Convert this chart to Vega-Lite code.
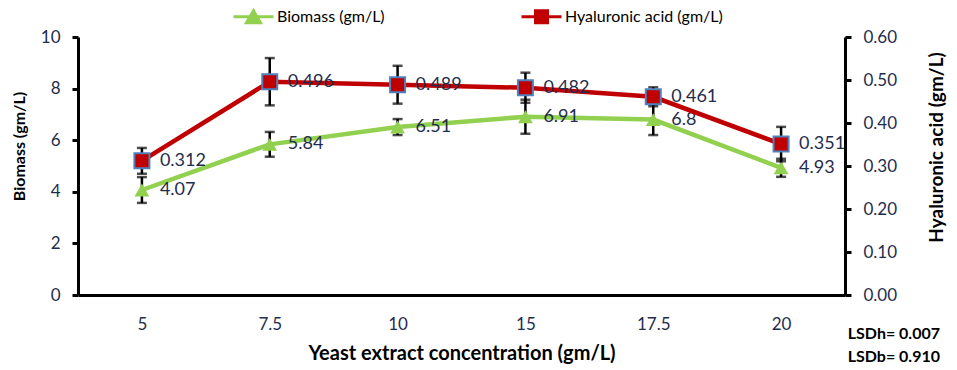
{
  "$schema": "https://vega.github.io/schema/vega-lite/v6.json",
  "width": 767,
  "height": 258,
  "autosize": {"type": "none"},
  "padding": {"left": 78, "top": 37, "right": 112, "bottom": 75},
  "background": "white",
  "config": {"view": {"stroke": null}, "font": "Lato"},
  "title": {
    "text": ["LSDh= 0.007", "LSDb= 0.910"],
    "orient": "bottom",
    "anchor": "end",
    "frame": "group",
    "fontSize": 16,
    "fontWeight": "bold",
    "color": "black",
    "lineHeight": 23,
    "offset": -37,
    "dx": 95,
    "align": "right"
  },
  "datasets": {
    "biomass": [
      {"conc": "5", "value": 4.07, "err": 0.5, "series": "Biomass (gm/L)"},
      {"conc": "7.5", "value": 5.84, "err": 0.48, "series": "Biomass (gm/L)"},
      {"conc": "10", "value": 6.51, "err": 0.31, "series": "Biomass (gm/L)"},
      {"conc": "15", "value": 6.91, "err": 0.66, "series": "Biomass (gm/L)"},
      {"conc": "17.5", "value": 6.8, "err": 0.6, "series": "Biomass (gm/L)"},
      {"conc": "20", "value": 4.93, "err": 0.35, "series": "Biomass (gm/L)"}
    ],
    "ha": [
      {"conc": "5", "value": 0.312, "err": 0.03, "series": "Hyaluronic acid (gm/L)"},
      {"conc": "7.5", "value": 0.496, "err": 0.055, "series": "Hyaluronic acid (gm/L)"},
      {"conc": "10", "value": 0.489, "err": 0.044, "series": "Hyaluronic acid (gm/L)"},
      {"conc": "15", "value": 0.482, "err": 0.035, "series": "Hyaluronic acid (gm/L)"},
      {"conc": "17.5", "value": 0.461, "err": 0.022, "series": "Hyaluronic acid (gm/L)"},
      {"conc": "20", "value": 0.351, "err": 0.04, "series": "Hyaluronic acid (gm/L)"}
    ]
  },
  "layer": [
    {
      "data": {"name": "biomass"},
      "encoding": {
        "x": {
          "field": "conc", "type": "ordinal",
          "sort": ["5", "7.5", "10", "15", "17.5", "20"],
          "scale": {"type": "point", "padding": 0.5},
          "axis": {
            "title": "Yeast extract concentration (gm/L)", "labelAngle": 0,
            "domainColor": "black", "domainWidth": 3, "ticks": false,
            "labelPadding": 21, "labelFontSize": 17, "labelColor": "#1F2D4D",
            "titleFontSize": 20, "titleFontWeight": "bold", "titleColor": "black", "titlePadding": 11
          }
        },
        "y": {
          "field": "value", "type": "quantitative",
          "scale": {"domain": [0, 10], "nice": false},
          "axis": {
            "title": "Biomass (gm/L)", "values": [0, 2, 4, 6, 8, 10], "format": "d", "grid": false,
            "domainColor": "black", "domainWidth": 3, "tickColor": "black", "tickWidth": 3, "tickSize": 6,
            "labelFontSize": 17, "labelColor": "#1F2D4D", "labelPadding": 12,
            "titleFontSize": 16, "titleFontWeight": "bold", "titleColor": "black", "titlePadding": 13,
            "titleY": 109
          }
        }
      },
      "layer": [
        {"mark": {"type": "errorbar", "ticks": {"size": 10, "thickness": 2.5, "color": "black"}, "color": "black", "thickness": 2.5},
         "encoding": {"yError": {"field": "err"}}},
        {"mark": {"type": "line", "strokeWidth": 4.5},
         "encoding": {"color": {"field": "series", "type": "nominal",
           "scale": {"domain": ["Biomass (gm/L)", "Hyaluronic acid (gm/L)"], "range": ["#92D050", "#C00000"]},
           "legend": {
             "orient": "none", "legendX": 154, "legendY": -42, "direction": "horizontal",
             "title": null, "padding": 0, "columnPadding": 130, "labelOffset": 2,
             "symbolSize": 1600, "symbolStrokeWidth": 3, "labelFontSize": 16, "labelColor": "black",
             "encode": {"symbols": {"update": {
               "shape": {"signal": "datum.value === 'Biomass (gm/L)' ? 'M-1,0H1M-0.35,0.3L0,-0.3L0.35,0.3Z' : 'M-1,0H1M-0.3,-0.3H0.3V0.3H-0.3Z'"},
               "fill": {"signal": "datum.value === 'Biomass (gm/L)' ? '#92D050' : '#C00000'"},
               "stroke": {"signal": "datum.value === 'Biomass (gm/L)' ? '#92D050' : '#C00000'"},
               "fillOpacity": {"value": 1}, "strokeOpacity": {"value": 1}
             }}}
           }}}},
        {"mark": {"type": "point", "shape": "triangle-up", "filled": true, "size": 220, "color": "#92D050", "opacity": 1}},
        {"mark": {"type": "text", "align": "left", "dx": 18, "fontSize": 18, "color": "#1F2D4D"},
         "encoding": {"text": {"field": "value", "type": "nominal"}}}
      ]
    },
    {
      "data": {"name": "ha"},
      "encoding": {
        "x": {
          "field": "conc", "type": "ordinal",
          "sort": ["5", "7.5", "10", "15", "17.5", "20"],
          "scale": {"type": "point", "padding": 0.5}
        },
        "y": {
          "field": "value", "type": "quantitative",
          "scale": {"domain": [0, 0.6], "nice": false},
          "axis": {
            "orient": "right", "title": "Hyaluronic acid (gm/L)", "titleAngle": 270,
            "values": [0, 0.1, 0.2, 0.3, 0.4, 0.5, 0.6], "format": ".2f", "grid": false,
            "domainColor": "black", "domainWidth": 3, "tickColor": "black", "tickWidth": 3, "tickSize": 6,
            "labelFontSize": 17, "labelColor": "#1F2D4D", "labelPadding": 12,
            "titleFontSize": 19, "titleFontWeight": "bold", "titleColor": "black", "titlePadding": 50,
            "titleY": 110
          }
        }
      },
      "layer": [
        {"mark": {"type": "errorbar", "ticks": {"size": 10, "thickness": 2.5, "color": "black"}, "color": "black", "thickness": 2.5},
         "encoding": {"yError": {"field": "err"}}},
        {"mark": {"type": "line", "strokeWidth": 4.5},
         "encoding": {"color": {"field": "series", "type": "nominal"}}},
        {"mark": {"type": "point", "shape": "square", "filled": true, "size": 225, "fill": "#C00000", "stroke": "#4F81BD", "strokeWidth": 2, "opacity": 1}},
        {"mark": {"type": "text", "align": "left", "dx": 18, "fontSize": 18, "color": "#1F2D4D"},
         "encoding": {"text": {"field": "value", "type": "nominal"}}}
      ]
    }
  ],
  "resolve": {"scale": {"y": "independent"}}
}
